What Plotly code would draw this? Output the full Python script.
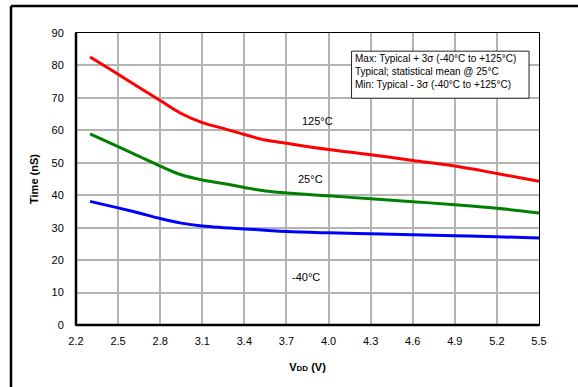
import plotly.graph_objects as go

# VDD (V) sample points
vdd = [2.3, 2.5, 2.65, 2.8, 2.95, 3.1, 3.25, 3.4, 3.55, 3.7, 4.0, 4.3, 4.6, 4.9, 5.2, 5.5]

# Time (nS) per temperature
t_125 = [82.6, 77.3, 73.2, 69.2, 65.2, 62.4, 60.6, 58.7, 57.0, 56.0, 54.1, 52.5, 50.7, 49.0, 46.7, 44.3]
t_25 = [58.9, 55.0, 52.0, 49.0, 46.3, 44.7, 43.6, 42.4, 41.3, 40.7, 39.8, 38.9, 38.0, 37.1, 36.0, 34.5]
t_m40 = [38.1, 36.1, 34.5, 32.8, 31.4, 30.5, 30.0, 29.6, 29.2, 28.8, 28.4, 28.1, 27.8, 27.5, 27.2, 26.8]

x_ticks = [2.2, 2.5, 2.8, 3.1, 3.4, 3.7, 4.0, 4.3, 4.6, 4.9, 5.2, 5.5]
y_ticks = [0, 10, 20, 30, 40, 50, 60, 70, 80, 90]

fig = go.Figure()
for ys, col in [(t_125, '#ff0000'), (t_25, '#008000'), (t_m40, '#0000ff')]:
    fig.add_trace(go.Scatter(x=vdd, y=ys, mode='lines',
                             line=dict(color=col, width=3, shape='spline', smoothing=1.0),
                             showlegend=False, hoverinfo='skip'))

# curve labels
for txt, lx, ly in [('125°C', 3.92, 63.0), ('25°C', 3.87, 45.0), ('-40°C', 3.84, 14.9)]:
    fig.add_annotation(x=lx, y=ly, text=txt, showarrow=False,
                       font=dict(size=11, color='black'))

# note box
fig.add_shape(type='rect', xref='x', yref='y', x0=4.164, x1=5.429, y0=69.9, y1=84.4,
              line=dict(color='#222222', width=1), fillcolor='white', layer='above')
fig.add_annotation(x=4.175, y=84.3, xanchor='left', yanchor='top', align='left',
                   showarrow=False, font=dict(size=10, color='black'),
                   text='Max: Typical + 3σ (-40°C to +125°C)<br>'
                        'Typical; statistical mean @ 25°C<br>'
                        'Min: Typical - 3σ (-40°C to +125°C)')

# thick left / bottom axis lines
fig.add_shape(type='line', xref='paper', yref='paper', x0=0, x1=0, y0=0, y1=1,
              line=dict(color='black', width=2.5))
fig.add_shape(type='line', xref='paper', yref='paper', x0=0, x1=1, y0=0, y1=0,
              line=dict(color='black', width=2.5))

# outer frame: left and top edges (it runs off the right and bottom)
fig.add_shape(type='line', xref='paper', yref='paper', x0=-0.1404, x1=-0.1404, y0=-0.27, y1=1.0925,
              line=dict(color='black', width=2.5))
fig.add_shape(type='line', xref='paper', yref='paper', x0=-0.1404, x1=1.15, y0=1.0925, y1=1.0925,
              line=dict(color='black', width=2.5))

fig.update_xaxes(range=[2.2, 5.5], tickvals=x_ticks, ticktext=['%.1f' % v for v in x_ticks],
                 showgrid=True, gridcolor='#b4b4b4', gridwidth=1.5,
                 showline=True, linecolor='black', linewidth=1, mirror=True,
                 ticks='outside', ticklen=6, tickcolor='white',
                 zeroline=False, tickfont=dict(size=11, color='black'),
                 title=dict(text='<b>V<span style="font-size:8px">DD</span> (V)</b>',
                            font=dict(size=11, color='black'), standoff=17))
fig.update_yaxes(range=[0, 90], tickvals=y_ticks,
                 showgrid=True, gridcolor='#b4b4b4', gridwidth=1.5,
                 showline=True, linecolor='black', linewidth=1, mirror=True,
                 ticks='outside', ticklen=9, tickcolor='white',
                 zeroline=False, tickfont=dict(size=11, color='black'),
                 title=dict(text='<b>Time (nS)</b>', font=dict(size=11, color='black'),
                            standoff=10))

fig.update_layout(width=578, height=387, margin=dict(l=76, r=39, t=33, b=62),
                  plot_bgcolor='white', paper_bgcolor='white',
                  font=dict(family='Liberation Sans, Arial, sans-serif'))

# drop the default 8px page margin so the figure sits at the window corner
fig.write_html("out.html", config={'displayModeBar': False},
               post_script="document.body.style.margin='0';")
